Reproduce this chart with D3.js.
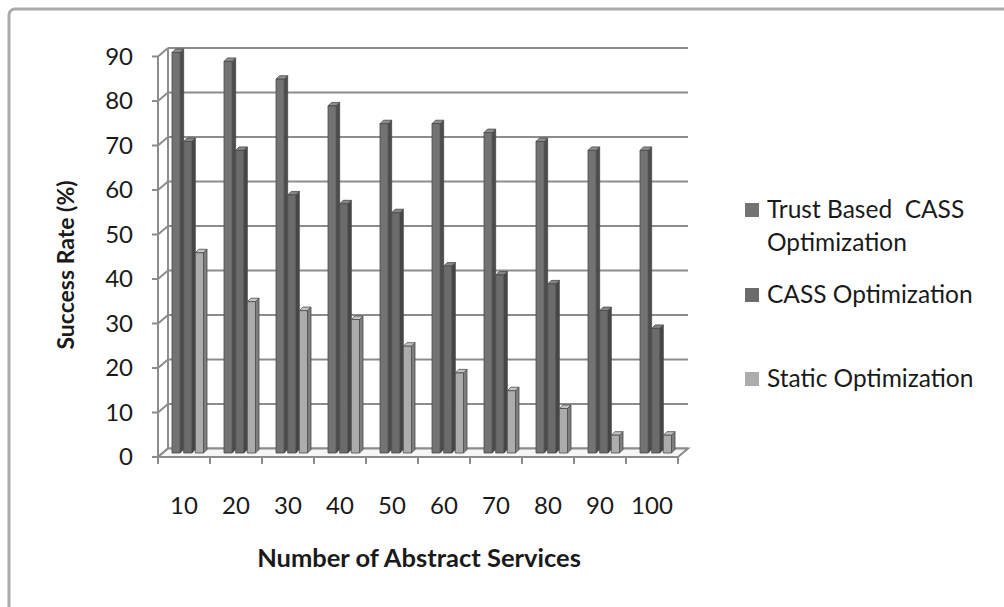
<!DOCTYPE html>
<html>
<head>
<meta charset="utf-8">
<script src="https://cdn.jsdelivr.net/npm/d3@7"></script>
<style>
  html, body { margin: 0; padding: 0; background: #fff; }
  svg { display: block; }
  text { font-family: Lato, "Open Sans", sans-serif; fill: #1a1a1a; }
</style>
</head>
<body>
<svg id="chart" width="1004" height="607"></svg>
<script>
// Success rate (%) by number of abstract services
const categories = ["10", "20", "30", "40", "50", "60", "70", "80", "90", "100"];
const seriesNames = ["Trust Based CASS Optimization", "CASS Optimization", "Static Optimization"];
const trustBased = [90, 88, 84, 78, 74, 74, 72, 70, 68, 68];
const cass = [70, 68, 58, 56, 54, 42, 40, 38, 32, 28];
const staticOpt = [45, 34, 32, 30, 24, 18, 14, 10, 4, 4];
const yTicks = [0, 10, 20, 30, 40, 50, 60, 70, 80, 90];

const seriesValues = [trustBased, cass, staticOpt];
const faceColors = ["#737373", "#6b6b6b", "#acacac"];
const sideColors = ["#4c4c4c", "#464646", "#7e7e7e"];
const topColors = ["#8e8e8e", "#858585", "#c4c4c4"];

const svg = d3.select("#chart");

// outer frame
svg.append("rect")
  .attr("x", 9).attr("y", 9).attr("width", 1010).attr("height", 620)
  .attr("rx", 6)
  .attr("fill", "none").attr("stroke", "#ababab").attr("stroke-width", 3);

// 3D depth offsets: back wall and bar plane
const depth = { dx: 10, dy: -8.5 };
const barDepth = { dx: 4, dy: -4 };
const side = 3.5;

const x = d3.scaleBand().domain(categories).range([158, 678]).padding(0);
const xs = d3.scaleBand().domain(seriesNames).range([10, 45]).padding(0);
const y = d3.scaleLinear().domain([0, 90]).range([457, 56.5]);

const lineColor = "#8c8c8c";
const grid = svg.append("g").attr("stroke", lineColor).attr("stroke-width", 2).attr("fill", "none");

// back wall gridlines
grid.selectAll("line.grid").data(yTicks).join("line")
  .attr("class", "grid")
  .attr("x1", x.range()[0] + depth.dx).attr("x2", x.range()[1] + depth.dx)
  .attr("y1", d => y(d) + depth.dy).attr("y2", d => y(d) + depth.dy);

// left wall: diagonal connectors from the front axis to the back wall
grid.selectAll("line.diag").data(yTicks).join("line")
  .attr("class", "diag")
  .attr("x1", x.range()[0]).attr("y1", d => y(d))
  .attr("x2", x.range()[0] + depth.dx).attr("y2", d => y(d) + depth.dy);

// back wall left edge
grid.append("line")
  .attr("x1", x.range()[0] + depth.dx).attr("x2", x.range()[0] + depth.dx)
  .attr("y1", y(0) + depth.dy).attr("y2", y(90) + depth.dy);

// floor
grid.append("path")
  .attr("fill", "#f6f6f6")
  .attr("d", `M${x.range()[0]},${y(0)} L${x.range()[1]},${y(0)} L${x.range()[1] + depth.dx},${y(0) + depth.dy} L${x.range()[0] + depth.dx},${y(0) + depth.dy} Z`);

// bars (front face, side face and top face)
const barsG = svg.append("g");
categories.forEach((c, i) => {
  seriesNames.forEach((s, j) => {
    const v = seriesValues[j][i];
    const x0 = x(c) + xs(s) + barDepth.dx;
    const w = xs.bandwidth() - side;
    const yTop = y(v) + barDepth.dy;
    const yBot = y(0) + barDepth.dy;
    const g = barsG.append("g").attr("stroke", "#4a4a4a").attr("stroke-width", 0.8).attr("stroke-linejoin", "round");
    g.append("path").attr("fill", sideColors[j])
      .attr("d", `M${x0 + w},${yTop} L${x0 + w + side},${yTop - side} L${x0 + w + side},${yBot - side} L${x0 + w},${yBot} Z`);
    g.append("path").attr("fill", topColors[j])
      .attr("d", `M${x0},${yTop} L${x0 + side},${yTop - side} L${x0 + w + side},${yTop - side} L${x0 + w},${yTop} Z`);
    g.append("rect").attr("fill", faceColors[j])
      .attr("x", x0).attr("y", yTop).attr("width", w).attr("height", yBot - yTop);
  });
});

// front axes
const axesG = svg.append("g").attr("stroke", lineColor).attr("stroke-width", 2);
axesG.append("line")
  .attr("x1", x.range()[0]).attr("x2", x.range()[0])
  .attr("y1", y(0)).attr("y2", y(90));
axesG.selectAll("line.ytick").data(yTicks).join("line")
  .attr("class", "ytick")
  .attr("x1", x.range()[0] - 6).attr("x2", x.range()[0])
  .attr("y1", d => y(d)).attr("y2", d => y(d));
axesG.append("line")
  .attr("x1", x.range()[0]).attr("x2", x.range()[1])
  .attr("y1", y(0)).attr("y2", y(0));
const xTickPos = categories.map(c => x(c)).concat([x.range()[1]]);
axesG.selectAll("line.xtick").data(xTickPos).join("line")
  .attr("class", "xtick")
  .attr("x1", d => d).attr("x2", d => d)
  .attr("y1", y(0)).attr("y2", y(0) + 7);

// y tick labels
svg.append("g").selectAll("text").data(yTicks).join("text")
  .attr("x", 133).attr("y", d => y(d) + 2)
  .attr("text-anchor", "end").attr("dominant-baseline", "middle")
  .attr("font-size", 24)
  .text(d => d);

// x tick labels
svg.append("g").selectAll("text").data(categories).join("text")
  .attr("x", c => x(c) + x.bandwidth() / 2).attr("y", 508)
  .attr("text-anchor", "middle").attr("dominant-baseline", "middle")
  .attr("font-size", 24)
  .text(c => c);

// axis titles
svg.append("text")
  .attr("x", 419).attr("y", 567)
  .attr("text-anchor", "middle").attr("font-weight", "bold").attr("font-size", 25.5)
  .text("Number of Abstract Services");
svg.append("text")
  .attr("transform", "translate(74,265) rotate(-90)")
  .attr("text-anchor", "middle").attr("font-weight", "bold").attr("font-size", 23)
  .text("Success Rate (%)");

// legend
const legendRows = [
  { lines: ["Trust Based  CASS", "Optimization"], y: 218, sq: 210 },
  { lines: ["CASS Optimization"], y: 303, sq: 295 },
  { lines: ["Static Optimization"], y: 387, sq: 379 }
];
const legend = svg.append("g");
legendRows.forEach((r, j) => {
  legend.append("rect")
    .attr("x", 745).attr("y", r.sq - 7).attr("width", 14).attr("height", 14)
    .attr("fill", faceColors[j]);
  const t = legend.append("text").attr("x", 767).attr("y", r.y).attr("font-size", 24.5);
  r.lines.forEach((ln, k) => {
    t.append("tspan").attr("x", 767).attr("dy", k === 0 ? 0 : 33).style("white-space", "pre").text(ln);
  });
});
</script>
</body>
</html>
